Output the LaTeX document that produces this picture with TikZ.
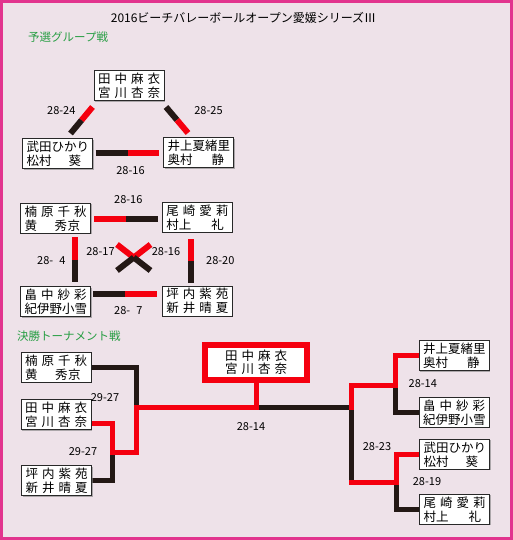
\documentclass[tikz,border=0pt]{standalone}
\usepackage{fontspec}
\newfontfamily\jp{Noto Sans CJK JP}
\usetikzlibrary{calc,shadows}
\definecolor{bgc}{RGB}{238,226,233}
\definecolor{framec}{RGB}{226,52,142}
\definecolor{rd}{RGB}{245,0,15}
\definecolor{blk}{RGB}{35,24,21}
\definecolor{grn}{RGB}{40,158,68}
\definecolor{boxc}{RGB}{40,40,40}
\pgfdeclarelayer{back}
\pgfdeclarelayer{lines}
\pgfsetlayers{back,lines,main}
\newcommand\fw[1]{\makebox[62pt][s]{#1}}
\newcommand\lw[1]{\makebox[62pt][l]{#1}}
\newcommand\TxTanaka{\fw{田\hfill 中\hfill 麻\hfill 衣}\\\fw{宮\hfill 川\hfill 杏\hfill 奈}}
\newcommand\TxTakeda{\lw{武田ひかり}\\\lw{松村\hspace{17pt}葵}}
\newcommand\TxInoue{\lw{井上夏緒里}\\\lw{奥村\hspace{19pt}静}}
\newcommand\TxKusu{\fw{楠\hfill 原\hfill 千\hfill 秋}\\\lw{黄\hspace{17.5pt}秀\hspace{0.5pt}京}}
\newcommand\TxOzaki{\fw{尾\hfill 崎\hfill 愛\hfill 莉}\\\lw{村上\hspace{20pt}礼}}
\newcommand\TxHata{\fw{畠\hfill 中\hfill 紗\hfill 彩}\\\lw{紀伊野小雪}}
\newcommand\TxTsubo{\fw{坪\hfill 内\hfill 紫\hfill 苑}\\\fw{新\hfill 井\hfill 晴\hfill 夏}}
\begin{document}
\begin{tikzpicture}[x=1pt,y=-1pt,
  box/.style={draw=boxc, line width=1pt, fill=white, minimum width=70pt, minimum height=30pt,
    inner sep=0pt, align=left, font=\jp\fontsize{12.5}{14}\selectfont,
    drop shadow={shadow xshift=1pt, shadow yshift=-1pt, opacity=0.6}},
  fin/.style={draw=rd, line width=6pt, fill=white, minimum width=102pt, minimum height=35pt,
    inner sep=0pt, align=left, font=\jp\fontsize{12.5}{12.5}\selectfont},
  sc/.style={font=\jp\fontsize{11}{11}\selectfont, inner sep=0pt},
  gl/.style={font=\jp\fontsize{11.5}{11.5}\selectfont, text=grn, inner sep=0pt, anchor=west},
  gbar/.style={line width=6pt},
  tb/.style={line width=5pt, line cap=rect, line join=miter}]
\useasboundingbox (0,0) rectangle (513,540);
\begin{pgfonlayer}{back}
\fill[bgc] (0,0) rectangle (513,540);
\draw[framec, line width=3pt] (1.5,1.5) rectangle (511.5,538.5);
\end{pgfonlayer}

\node[font=\jp\fontsize{12}{12}\selectfont, inner sep=0pt] (title) at (243.5,17.5) {2016ビーチバレーボールオープン愛媛シリーズⅢ};
\node[gl] (h1) at (28,37) {予選グループ戦};
\node[gl] (h2) at (17,336) {決勝トーナメント戦};

% group 1
\node[box] (g1a) at (129,86) {\TxTanaka};
\node[box] (g1b) at (57.5,154) {\TxTakeda};
\node[box] (g1c) at (198.5,153) {\TxInoue};
% group 2
\node[box] (g2a) at (55.7,218.3) {\TxKusu};
\node[box] (g2b) at (197.3,217.3) {\TxOzaki};
\node[box] (g2c) at (55.5,301.7) {\TxHata};
\node[box] (g2d) at (197.3,301) {\TxTsubo};
% tournament
\node[box] (t1) at (56.2,367.3) {\TxKusu};
\node[box] (t2) at (56.2,414.7) {\TxTanaka};
\node[box] (t3) at (56.7,480.7) {\TxTsubo};
\node[fin] (f) at (256,362.5) {\fw{田\hfill 中\hfill 麻\hfill 衣}\\\fw{宮\hfill 川\hfill 杏\hfill 奈}};
\node[box] (r1) at (454.2,355.7) {\TxInoue};
\node[box] (r2) at (454.2,412.3) {\TxHata};
\node[box] (r3) at (454.7,454.3) {\TxTakeda};
\node[box] (r4) at (454.7,509.3) {\TxOzaki};

% score labels
\node[sc] (s1) at (61.3,111) {28-24};
\node[sc] (s2) at (208.5,111) {28-25};
\node[sc] (s3) at (130.5,171) {28-16};
\node[sc] (s4) at (128.3,200) {28-16};
\node[sc] (s5) at (100.5,251.7) {28-17};
\node[sc] (s6) at (166,251.7) {28-16};
\node[sc] (s7) at (51.3,261) {28-\hspace{6pt}4};
\node[sc] (s8) at (220.3,261) {28-20};
\node[sc] (s9) at (128.3,311) {28-\hspace{6pt}7};
\node[sc] (s10) at (105,397.7) {29-27};
\node[sc] (s11) at (83,451.7) {29-27};
\node[sc] (s12) at (251,426.7) {28-14};
\node[sc] (s13) at (422.8,384) {28-14};
\node[sc] (s14) at (377,447) {28-23};
\node[sc] (s15) at (427,482) {28-19};

\begin{pgfonlayer}{lines}
% group 1 bars
\coordinate (p1a) at (92.5,107); \coordinate (p1b) at (70.5,133.5);
\coordinate (p2a) at (166,107);  \coordinate (p2b) at (188,133);
\coordinate (p3a) at (95.7,153); \coordinate (p3b) at (159.3,153);
\draw[gbar,rd] (p1a) -- ($(p1a)!.5!(p1b)$);
\draw[gbar,blk] ($(p1a)!.5!(p1b)$) -- (p1b);
\draw[gbar,blk] (p2a) -- ($(p2a)!.5!(p2b)$);
\draw[gbar,rd] ($(p2a)!.5!(p2b)$) -- (p2b);
\draw[gbar,blk] (p3a) -- ($(p3a)!.5!(p3b)$);
\draw[gbar,rd] ($(p3a)!.5!(p3b)$) -- (p3b);
% group 2 bars
\coordinate (q1a) at (94,219);    \coordinate (q1b) at (157.7,219);
\coordinate (q2a) at (93.3,294);  \coordinate (q2b) at (156.7,294);
\coordinate (q3a) at (74.5,237.3); \coordinate (q3b) at (74.5,281.7);
\coordinate (q4a) at (190.5,239.3); \coordinate (q4b) at (190.5,282.7);
\draw[gbar,rd] (q1a) -- ($(q1a)!.5!(q1b)$);
\draw[gbar,blk] ($(q1a)!.5!(q1b)$) -- (q1b);
\draw[gbar,blk] (q2a) -- ($(q2a)!.5!(q2b)$);
\draw[gbar,rd] ($(q2a)!.5!(q2b)$) -- (q2b);
\draw[gbar,rd] (q3a) -- ($(q3a)!.5!(q3b)$);
\draw[gbar,blk] ($(q3a)!.5!(q3b)$) -- (q3b);
\draw[gbar,rd] (q4a) -- ($(q4a)!.5!(q4b)$);
\draw[gbar,blk] ($(q4a)!.5!(q4b)$) -- (q4b);
% cross
\coordinate (xtl) at (117,244.5); \coordinate (xbr) at (150.5,270.5);
\coordinate (xtr) at (150.5,244.5); \coordinate (xbl) at (117,270.5);
\draw[gbar,rd] (xtl) -- ($(xtl)!.55!(xbr)$);
\draw[gbar,rd] (xtr) -- ($(xtr)!.55!(xbl)$);
\draw[gbar,blk] ($(xtl)!.5!(xbr)$) -- (xbr);
\draw[gbar,blk] ($(xtr)!.5!(xbl)$) -- (xbl);
% tournament
\coordinate (j1) at (136,407.5);
\coordinate (j2) at (112.5,452.5);
\coordinate (fx) at (256,407.5);
\coordinate (jR) at (351.5,407.5);
\coordinate (jRb) at (351.5,482.5);
\coordinate (jr1) at (395.5,385.5);
\coordinate (jr2) at (396.5,482.5);
\draw[tb,blk] (t1.east) -| (j1);
\draw[tb,blk] (t3.east) -| (j2);
\draw[tb,blk] (fx) -- (jR) -- (jRb);
\draw[tb,blk] (jr1) |- (r2.west);
\draw[tb,blk] (jr2) |- (r4.west);
\draw[tb,rd] ([yshift=-8.5pt]t2.east) -| (j2) -| (j1) -- (fx) -- (f.south);
\draw[tb,rd] (jR) |- (jr1) |- (r1.west);
\draw[tb,rd] (jRb) -- (jr2) |- (r3.west);
\end{pgfonlayer}
\end{tikzpicture}
\end{document}
